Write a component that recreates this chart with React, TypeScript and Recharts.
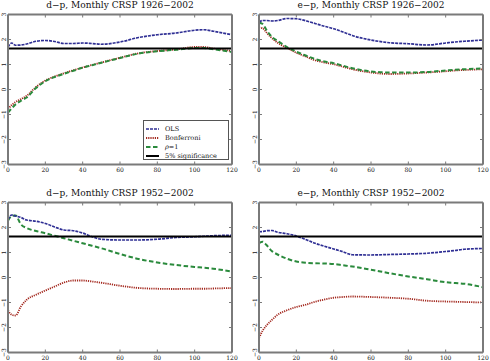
import React from 'react';
import { LineChart, Line, XAxis, YAxis, ReferenceLine, Legend } from 'recharts';

const months = [0, 2, 4, 7, 10, 15, 20, 25, 30, 35, 40, 45, 50, 60, 70, 80, 90, 100, 105, 110, 120];
const xTicks = [0, 20, 40, 60, 80, 100, 120];
const yTicks = [-3, -2, -1, 0, 1, 2, 3];
const significance = 1.645;

// Panel 1: d-p, Monthly CRSP 1926-2002
const dp26Ols = [1.7, 1.86, 1.77, 1.78, 1.82, 1.93, 1.96, 1.92, 1.84, 1.84, 1.86, 1.84, 1.81, 1.9, 2.08, 2.19, 2.26, 2.37, 2.39, 2.33, 2.19];
const dp26Bonf = [-0.78, -0.62, -0.5, -0.38, -0.25, 0.1, 0.36, 0.52, 0.65, 0.77, 0.88, 0.98, 1.08, 1.27, 1.45, 1.54, 1.6, 1.7, 1.7, 1.64, 1.54];
const dp26Rho = [-0.92, -0.75, -0.6, -0.45, -0.32, 0.06, 0.33, 0.5, 0.63, 0.75, 0.87, 0.97, 1.07, 1.26, 1.44, 1.53, 1.59, 1.66, 1.66, 1.61, 1.5];

// Panel 2: e-p, Monthly CRSP 1926-2002
const ep26Ols = [2.7, 2.76, 2.76, 2.74, 2.76, 2.84, 2.83, 2.75, 2.64, 2.53, 2.43, 2.3, 2.16, 1.98, 1.87, 1.83, 1.78, 1.86, 1.9, 1.93, 1.98];
const ep26Bonf = [2.48, 2.45, 2.28, 2.05, 1.87, 1.66, 1.47, 1.32, 1.17, 1.08, 1.01, 0.91, 0.81, 0.68, 0.62, 0.64, 0.68, 0.73, 0.76, 0.78, 0.81];
const ep26Rho = [2.67, 2.62, 2.38, 2.1, 1.94, 1.7, 1.51, 1.36, 1.22, 1.12, 1.05, 0.95, 0.85, 0.72, 0.68, 0.68, 0.7, 0.76, 0.79, 0.81, 0.84];

// Panel 3: d-p, Monthly CRSP 1952-2002
const dp52Ols = [2.32, 2.5, 2.46, 2.4, 2.3, 2.25, 2.16, 2.02, 1.9, 1.87, 1.78, 1.63, 1.53, 1.5, 1.5, 1.53, 1.6, 1.63, 1.65, 1.67, 1.69];
const dp52Bonf = [-1.31, -1.49, -1.52, -1.15, -0.89, -0.69, -0.52, -0.36, -0.2, -0.12, -0.12, -0.16, -0.21, -0.33, -0.42, -0.45, -0.46, -0.45, -0.45, -0.44, -0.42];
const dp52Rho = [2.27, 2.46, 2.48, 2.12, 1.98, 1.86, 1.77, 1.67, 1.57, 1.47, 1.37, 1.27, 1.17, 0.94, 0.74, 0.6, 0.5, 0.42, 0.39, 0.35, 0.24];

// Panel 4: e-p, Monthly CRSP 1952-2002
const ep52Ols = [1.83, 1.84, 1.87, 1.88, 1.81, 1.75, 1.66, 1.52, 1.37, 1.25, 1.14, 1.03, 0.91, 0.9, 0.92, 0.94, 0.97, 1.04, 1.08, 1.13, 1.16];
const ep52Bonf = [-2.42, -2.12, -1.92, -1.69, -1.49, -1.31, -1.18, -1.09, -0.97, -0.88, -0.81, -0.78, -0.76, -0.78, -0.81, -0.85, -0.93, -0.96, -0.97, -0.98, -1.0];
const ep52Rho = [1.37, 1.43, 1.3, 1.05, 0.92, 0.75, 0.64, 0.59, 0.57, 0.56, 0.54, 0.49, 0.44, 0.31, 0.17, 0.04, -0.07, -0.19, -0.22, -0.25, -0.39];

const FONT = '"DejaVu Serif", serif';
const FRAME = '#7a7a7a';
const BLUE = '#2f2f94';
const RED = '#a3281e';
const GREEN = '#2a8a3c';

const fmt = (v: number) => (v < 0 ? '\u2212' + Math.abs(v) : String(v));

const BottomTick = (props: any) => {
  const { x, y, payload } = props;
  return (
    <g>
      <line x1={x} x2={x} y1={y} y2={y - 3} stroke={FRAME} strokeWidth={1} />
      <text x={x} y={y + 7.5} textAnchor="middle" fontFamily={FONT} fontSize={6} fill="#111">
        {payload.value}
      </text>
    </g>
  );
};
const TopTick = (props: any) => {
  const { x, y } = props;
  return <line x1={x} x2={x} y1={y} y2={y + 3} stroke={FRAME} strokeWidth={1} />;
};
const LeftTick = (props: any) => {
  const { x, y, payload } = props;
  const tx = x - 2.5;
  return (
    <g>
      <line x1={x} x2={x + 3} y1={y} y2={y} stroke={FRAME} strokeWidth={1} />
      <text
        x={tx}
        y={y}
        transform={`rotate(-90 ${tx} ${y})`}
        textAnchor="middle"
        fontFamily={FONT}
        fontSize={6}
        fill="#111"
      >
        {fmt(payload.value)}
      </text>
    </g>
  );
};
const RightTick = (props: any) => {
  const { x, y } = props;
  return <line x1={x} x2={x - 3} y1={y} y2={y} stroke={FRAME} strokeWidth={1} />;
};

const legendItems = [
  { label: 'OLS', color: BLUE, dash: '3 1', width: 1.6 },
  { label: 'Bonferroni', color: RED, dash: '1.2 1', width: 1.8 },
  { label: 'rho', color: GREEN, dash: '4.5 2.5', width: 2 },
  { label: '5% significance', color: '#000', dash: undefined, width: 2 },
];

const LegendBox = () => (
  <div
    style={{
      width: 86,
      height: 40,
      border: '1px solid #555',
      background: '#fff',
      boxSizing: 'border-box',
      paddingTop: 3,
      fontFamily: FONT,
      fontSize: 6.5,
      color: '#111',
    }}
  >
    {legendItems.map((it) => (
      <div key={it.label} style={{ height: 9, display: 'flex', alignItems: 'center' }}>
        <svg width={18} height={6} style={{ marginLeft: 1 }}>
          <line x1={1} x2={14} y1={3} y2={3} stroke={it.color} strokeWidth={it.width} strokeDasharray={it.dash} />
        </svg>
        <span style={{ marginLeft: 2, whiteSpace: 'nowrap' }}>
          {it.label === 'rho' ? (
            <>
              <i>ρ</i>=1
            </>
          ) : (
            it.label
          )}
        </span>
      </div>
    ))}
  </div>
);

type PanelProps = {
  title: string;
  ols: number[];
  bonf: number[];
  rho: number[];
  left: number;
  top: number;
  legend?: boolean;
};

const Panel = ({ title, ols, bonf, rho, left, top, legend }: PanelProps) => {
  const data = months.map((m, i) => ({ m, ols: ols[i], bonf: bonf[i], rho: rho[i] }));
  return (
    <div style={{ position: 'absolute', left, top, width: 245, height: 180 }}>
      <div
        style={{
          position: 'absolute',
          left: 8,
          width: 224,
          top: 0,
          textAlign: 'center',
          fontFamily: FONT,
          fontSize: 9,
          lineHeight: '10px',
          color: '#111',
          whiteSpace: 'nowrap',
        }}
      >
        {title}
      </div>
      <div style={{ position: 'absolute', left: 0, top: 0 }}>
        <LineChart width={245} height={180} data={data} margin={{ top: 13.5, right: 12, bottom: 3.5, left: 0 }}>
          <XAxis
            xAxisId="B"
            dataKey="m"
            type="number"
            domain={[0, 120]}
            ticks={xTicks}
            interval={0}
            height={12}
            tickSize={0}
            tickMargin={0}
            tickLine={false}
            axisLine={{ stroke: FRAME, strokeWidth: 2 }}
            tick={<BottomTick />}
            allowDataOverflow
          />
          <XAxis
            xAxisId="T"
            orientation="top"
            dataKey="m"
            type="number"
            domain={[0, 120]}
            ticks={xTicks}
            interval={0}
            height={1}
            tickSize={0}
            tickMargin={0}
            tickLine={false}
            axisLine={{ stroke: FRAME, strokeWidth: 2 }}
            tick={<TopTick />}
            allowDataOverflow
          />
          <YAxis
            yAxisId="L"
            type="number"
            domain={[-3, 3]}
            ticks={yTicks}
            interval={0}
            width={8}
            tickSize={0}
            tickMargin={0}
            tickLine={false}
            axisLine={{ stroke: FRAME, strokeWidth: 2 }}
            tick={<LeftTick />}
            allowDataOverflow
          />
          <YAxis
            yAxisId="R"
            orientation="right"
            type="number"
            domain={[-3, 3]}
            ticks={yTicks}
            interval={0}
            width={1}
            tickSize={0}
            tickMargin={0}
            tickLine={false}
            axisLine={{ stroke: FRAME, strokeWidth: 2 }}
            tick={<RightTick />}
            allowDataOverflow
          />
          <Line
            xAxisId="B"
            yAxisId="L"
            dataKey="bonf"
            type="monotone"
            stroke={RED}
            strokeWidth={1.8}
            strokeDasharray="1.2 1"
            dot={false}
            isAnimationActive={false}
          />
          <Line
            xAxisId="B"
            yAxisId="L"
            dataKey="rho"
            type="monotone"
            stroke={GREEN}
            strokeWidth={2}
            strokeDasharray="4.5 2.5"
            dot={false}
            isAnimationActive={false}
          />
          <Line
            xAxisId="B"
            yAxisId="L"
            dataKey="ols"
            type="monotone"
            stroke={BLUE}
            strokeWidth={1.7}
            strokeDasharray="3 1"
            dot={false}
            isAnimationActive={false}
          />
          <ReferenceLine xAxisId="B" yAxisId="L" y={significance} stroke="#000" strokeWidth={2} />
          {legend && (
            <Legend
              layout="vertical"
              align="center"
              verticalAlign="middle"
              content={<LegendBox />}
              wrapperStyle={{ position: 'absolute', left: 143, top: 120, width: 86, height: 40 }}
            />
          )}
        </LineChart>
      </div>
    </div>
  );
};

export default function App() {
  return (
    <div style={{ position: 'absolute', left: 0, top: 0, width: 490, height: 361, background: '#fff', overflow: 'hidden' }}>
      <Panel title="d−p, Monthly CRSP 1926−2002" ols={dp26Ols} bonf={dp26Bonf} rho={dp26Rho} left={0} top={0} legend />
      <Panel title="e−p, Monthly CRSP 1926−2002" ols={ep26Ols} bonf={ep26Bonf} rho={ep26Rho} left={251} top={0} />
      <Panel title="d−p, Monthly CRSP 1952−2002" ols={dp52Ols} bonf={dp52Bonf} rho={dp52Rho} left={0} top={188} />
      <Panel title="e−p, Monthly CRSP 1952−2002" ols={ep52Ols} bonf={ep52Bonf} rho={ep52Rho} left={251} top={188} />
    </div>
  );
}
